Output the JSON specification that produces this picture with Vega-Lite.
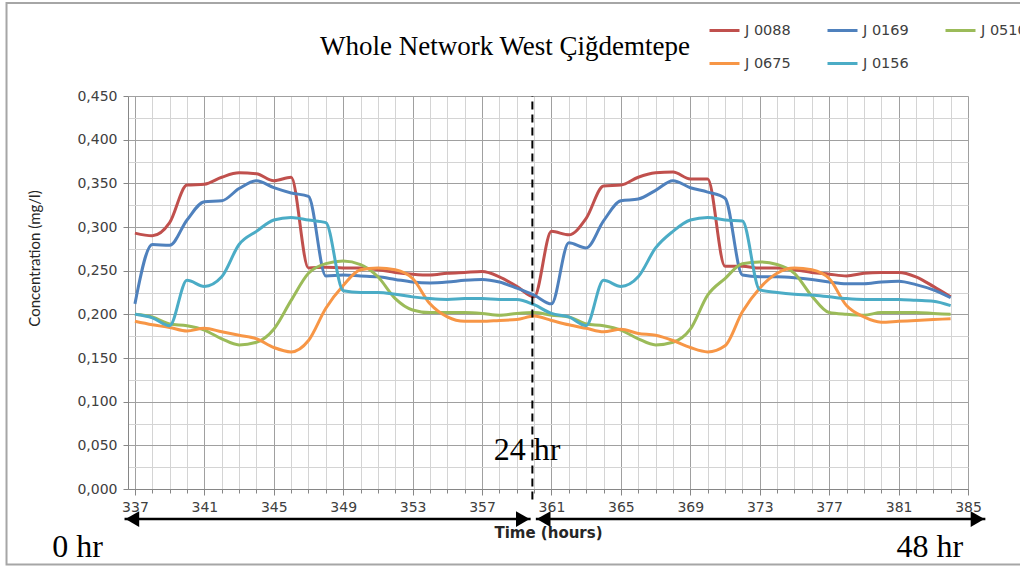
{
  "$schema": "https://vega.github.io/schema/vega-lite/v6.json",
  "width": 840,
  "height": 393,
  "autosize": {"type": "none"},
  "padding": {"left": 128, "top": 96, "right": 52, "bottom": 83},
  "background": "white",
  "config": {
    "view": {"stroke": null},
    "font": "DejaVu Sans",
    "axis": {"labelFont": "DejaVu Sans", "labelFontSize": 14, "labelColor": "#404040", "domainColor": "#868686", "tickColor": "#868686"}
  },
  "title": {
    "text": "Whole Network West Çiğdemtepe",
    "font": "Liberation Serif",
    "fontSize": 27,
    "fontWeight": "normal",
    "color": "#000000",
    "anchor": "middle",
    "frame": "group",
    "baseline": "alphabetic",
    "dx": -43,
    "offset": -80
  },
  "datasets": {
    "conc": [
      {"hour": 337, "J 0088": 0.293, "J 0169": 0.212, "J 0510": 0.200, "J 0675": 0.192, "J 0156": 0.200},
      {"hour": 338, "J 0088": 0.290, "J 0169": 0.280, "J 0510": 0.197, "J 0675": 0.188, "J 0156": 0.196},
      {"hour": 339, "J 0088": 0.305, "J 0169": 0.279, "J 0510": 0.189, "J 0675": 0.185, "J 0156": 0.187},
      {"hour": 340, "J 0088": 0.348, "J 0169": 0.308, "J 0510": 0.187, "J 0675": 0.181, "J 0156": 0.239},
      {"hour": 341, "J 0088": 0.349, "J 0169": 0.329, "J 0510": 0.182, "J 0675": 0.184, "J 0156": 0.232},
      {"hour": 342, "J 0088": 0.357, "J 0169": 0.330, "J 0510": 0.172, "J 0675": 0.180, "J 0156": 0.243},
      {"hour": 343, "J 0088": 0.362, "J 0169": 0.344, "J 0510": 0.165, "J 0675": 0.176, "J 0156": 0.280},
      {"hour": 344, "J 0088": 0.361, "J 0169": 0.353, "J 0510": 0.168, "J 0675": 0.172, "J 0156": 0.295},
      {"hour": 345, "J 0088": 0.353, "J 0169": 0.345, "J 0510": 0.183, "J 0675": 0.162, "J 0156": 0.308},
      {"hour": 346, "J 0088": 0.357, "J 0169": 0.339, "J 0510": 0.216, "J 0675": 0.157, "J 0156": 0.311},
      {"hour": 347, "J 0088": 0.253, "J 0169": 0.335, "J 0510": 0.247, "J 0675": 0.170, "J 0156": 0.308},
      {"hour": 348, "J 0088": 0.254, "J 0169": 0.244, "J 0510": 0.258, "J 0675": 0.207, "J 0156": 0.305},
      {"hour": 349, "J 0088": 0.253, "J 0169": 0.245, "J 0510": 0.261, "J 0675": 0.233, "J 0156": 0.227},
      {"hour": 350, "J 0088": 0.253, "J 0169": 0.244, "J 0510": 0.257, "J 0675": 0.251, "J 0156": 0.225},
      {"hour": 351, "J 0088": 0.251, "J 0169": 0.243, "J 0510": 0.243, "J 0675": 0.253, "J 0156": 0.225},
      {"hour": 352, "J 0088": 0.248, "J 0169": 0.240, "J 0510": 0.218, "J 0675": 0.251, "J 0156": 0.223},
      {"hour": 353, "J 0088": 0.246, "J 0169": 0.237, "J 0510": 0.205, "J 0675": 0.241, "J 0156": 0.220},
      {"hour": 354, "J 0088": 0.245, "J 0169": 0.236, "J 0510": 0.202, "J 0675": 0.212, "J 0156": 0.218},
      {"hour": 355, "J 0088": 0.247, "J 0169": 0.237, "J 0510": 0.202, "J 0675": 0.197, "J 0156": 0.217},
      {"hour": 356, "J 0088": 0.248, "J 0169": 0.239, "J 0510": 0.202, "J 0675": 0.192, "J 0156": 0.218},
      {"hour": 357, "J 0088": 0.249, "J 0169": 0.240, "J 0510": 0.201, "J 0675": 0.192, "J 0156": 0.218},
      {"hour": 358, "J 0088": 0.243, "J 0169": 0.237, "J 0510": 0.199, "J 0675": 0.193, "J 0156": 0.217},
      {"hour": 359, "J 0088": 0.232, "J 0169": 0.230, "J 0510": 0.201, "J 0675": 0.194, "J 0156": 0.217},
      {"hour": 360, "J 0088": 0.220, "J 0169": 0.222, "J 0510": 0.202, "J 0675": 0.198, "J 0156": 0.211},
      {"hour": 361, "J 0088": 0.295, "J 0169": 0.212, "J 0510": 0.199, "J 0675": 0.193, "J 0156": 0.201},
      {"hour": 362, "J 0088": 0.291, "J 0169": 0.282, "J 0510": 0.197, "J 0675": 0.188, "J 0156": 0.197},
      {"hour": 363, "J 0088": 0.310, "J 0169": 0.276, "J 0510": 0.189, "J 0675": 0.184, "J 0156": 0.187},
      {"hour": 364, "J 0088": 0.347, "J 0169": 0.307, "J 0510": 0.187, "J 0675": 0.180, "J 0156": 0.239},
      {"hour": 365, "J 0088": 0.348, "J 0169": 0.330, "J 0510": 0.182, "J 0675": 0.183, "J 0156": 0.232},
      {"hour": 366, "J 0088": 0.357, "J 0169": 0.332, "J 0510": 0.172, "J 0675": 0.178, "J 0156": 0.243},
      {"hour": 367, "J 0088": 0.362, "J 0169": 0.342, "J 0510": 0.165, "J 0675": 0.176, "J 0156": 0.276},
      {"hour": 368, "J 0088": 0.363, "J 0169": 0.353, "J 0510": 0.168, "J 0675": 0.170, "J 0156": 0.295},
      {"hour": 369, "J 0088": 0.355, "J 0169": 0.345, "J 0510": 0.183, "J 0675": 0.162, "J 0156": 0.308},
      {"hour": 370, "J 0088": 0.355, "J 0169": 0.340, "J 0510": 0.222, "J 0675": 0.157, "J 0156": 0.311},
      {"hour": 371, "J 0088": 0.255, "J 0169": 0.333, "J 0510": 0.241, "J 0675": 0.164, "J 0156": 0.308},
      {"hour": 372, "J 0088": 0.255, "J 0169": 0.245, "J 0510": 0.258, "J 0675": 0.203, "J 0156": 0.307},
      {"hour": 373, "J 0088": 0.253, "J 0169": 0.243, "J 0510": 0.260, "J 0675": 0.230, "J 0156": 0.228},
      {"hour": 374, "J 0088": 0.253, "J 0169": 0.243, "J 0510": 0.257, "J 0675": 0.247, "J 0156": 0.225},
      {"hour": 375, "J 0088": 0.251, "J 0169": 0.242, "J 0510": 0.247, "J 0675": 0.253, "J 0156": 0.223},
      {"hour": 376, "J 0088": 0.248, "J 0169": 0.240, "J 0510": 0.221, "J 0675": 0.251, "J 0156": 0.222},
      {"hour": 377, "J 0088": 0.246, "J 0169": 0.237, "J 0510": 0.202, "J 0675": 0.241, "J 0156": 0.220},
      {"hour": 378, "J 0088": 0.244, "J 0169": 0.235, "J 0510": 0.200, "J 0675": 0.210, "J 0156": 0.218},
      {"hour": 379, "J 0088": 0.247, "J 0169": 0.235, "J 0510": 0.199, "J 0675": 0.197, "J 0156": 0.217},
      {"hour": 380, "J 0088": 0.248, "J 0169": 0.237, "J 0510": 0.202, "J 0675": 0.191, "J 0156": 0.217},
      {"hour": 381, "J 0088": 0.248, "J 0169": 0.238, "J 0510": 0.202, "J 0675": 0.192, "J 0156": 0.217},
      {"hour": 382, "J 0088": 0.243, "J 0169": 0.234, "J 0510": 0.202, "J 0675": 0.193, "J 0156": 0.216},
      {"hour": 383, "J 0088": 0.232, "J 0169": 0.228, "J 0510": 0.201, "J 0675": 0.194, "J 0156": 0.215},
      {"hour": 384, "J 0088": 0.220, "J 0169": 0.219, "J 0510": 0.200, "J 0675": 0.195, "J 0156": 0.210}
    ],
    "frame": [
      {"left": 329.6, "right": 392.0, "top": 0.5565, "bottom": -0.0865}
    ],
    "arrows": [
      {"from": 336.4, "to": 359.8, "level": -0.0344},
      {"from": 360.1, "to": 386.0, "level": -0.0344}
    ],
    "heads": [
      {"hour": 336.85, "level": -0.0344, "dir": "left"},
      {"hour": 359.35, "level": -0.0344, "dir": "right"},
      {"hour": 360.55, "level": -0.0344, "dir": "left"},
      {"hour": 385.55, "level": -0.0344, "dir": "right"}
    ],
    "notes": [
      {"label": "24 hr", "hour": 359.6, "level": 0.033},
      {"label": "0 hr", "hour": 333.7, "level": -0.078},
      {"label": "48 hr", "hour": 382.8, "level": -0.078}
    ],
    "marker": [
      {"hour": 359.9, "low": -0.012, "high": 0.45}
    ]
  },
  "layer": [
    {
      "data": {"name": "frame"},
      "mark": {"type": "rect", "filled": false, "stroke": "#a6a6a6", "strokeWidth": 2},
      "encoding": {
        "x": {"field": "left", "type": "quantitative", "axis": null},
        "x2": {"field": "right"},
        "y": {"field": "top", "type": "quantitative", "axis": null},
        "y2": {"field": "bottom"}
      }
    },
    {
      "data": {"name": "conc"},
      "mark": {"type": "point", "opacity": 0},
      "encoding": {
        "x": {
          "field": "hour", "type": "quantitative",
          "scale": {"domain": [336.6, 385], "nice": false, "zero": false},
          "axis": {
            "orient": "bottom", "values": [337,338,339,340,341,342,343,344,345,346,347,348,349,350,351,352,353,354,355,356,357,358,359,360,361,362,363,364,365,366,367,368,369,370,371,372,373,374,375,376,377,378,379,380,381,382,383,384,385],
            "grid": true, "gridColor": "#d4d4d4", "gridWidth": 1,
            "domain": false, "labels": false, "ticks": true, "tickSize": 4, "title": null
          }
        },
        "y": {
          "field": "J 0088", "type": "quantitative",
          "scale": {"domain": [0, 0.45], "nice": false, "zero": true},
          "axis": {
            "orient": "left", "values": [0.025, 0.075, 0.125, 0.175, 0.225, 0.275, 0.325, 0.375, 0.425],
            "grid": true, "gridColor": "#d4d4d4", "gridWidth": 1,
            "domain": false, "labels": false, "ticks": false, "title": null
          }
        }
      }
    },
    {
      "data": {"name": "conc"},
      "transform": [{"fold": ["J 0088", "J 0169", "J 0510", "J 0675", "J 0156"], "as": ["junction", "value"]}],
      "mark": {"type": "line", "interpolate": "monotone", "strokeWidth": 3},
      "encoding": {
        "x": {
          "field": "hour", "type": "quantitative",
          "scale": {"domain": [336.6, 385], "nice": false, "zero": false},
          "axis": {
            "orient": "bottom", "values": [337, 341, 345, 349, 353, 357, 361, 365, 369, 373, 377, 381, 385],
            "grid": true, "gridColor": "#a0a0a0", "gridWidth": 1,
            "domain": true, "ticks": true, "tickSize": 6,
            "labelPadding": 5, "labelFlush": false, "labelOverlap": false,
            "title": "Time  (hours)", "titleFont": "DejaVu Sans", "titleFontSize": 15, "titleFontWeight": "bold", "titleColor": "#262626", "titlePadding": 11
          }
        },
        "y": {
          "field": "value", "type": "quantitative",
          "scale": {"domain": [0, 0.45], "nice": false, "zero": true},
          "axis": {
            "orient": "left", "values": [0, 0.05, 0.1, 0.15, 0.2, 0.25, 0.3, 0.35, 0.4, 0.45],
            "grid": true, "gridColor": "#a0a0a0", "gridWidth": 1,
            "domain": true, "ticks": true, "tickSize": 5, "labelPadding": 6,
            "labelExpr": "replace(format(datum.value, '.3f'), '.', ',')",
            "title": "Concentration  (mg/l)", "titleFont": "Lato", "titleFontSize": 15, "titleFontWeight": "normal", "titleColor": "#262626",
            "titleX": -86, "titleY": 162
          }
        },
        "color": {
          "field": "junction", "type": "nominal",
          "scale": {
            "domain": ["J 0088", "J 0169", "J 0510", "J 0675", "J 0156"],
            "range": ["#C0504D", "#4F81BD", "#9BBB59", "#F79646", "#4BACC6"]
          },
          "legend": {
            "title": null, "orient": "none", "legendX": 580, "legendY": -82,
            "direction": "horizontal", "columns": 3, "columnPadding": 30, "rowPadding": 10,
            "symbolType": "stroke", "symbolSize": 900, "symbolStrokeWidth": 3,
            "labelFont": "DejaVu Sans", "labelFontSize": 14.5, "labelColor": "#404040", "labelOffset": 4, "padding": 0
          }
        }
      }
    },
    {
      "data": {"name": "arrows"},
      "mark": {"type": "rule", "color": "black", "strokeWidth": 2.5},
      "encoding": {
        "x": {"field": "from", "type": "quantitative", "axis": null},
        "x2": {"field": "to"},
        "y": {"field": "level", "type": "quantitative", "axis": null}
      }
    },
    {
      "data": {"name": "heads"},
      "mark": {"type": "point", "filled": true, "color": "black", "size": 250, "opacity": 1},
      "encoding": {
        "x": {"field": "hour", "type": "quantitative", "axis": null},
        "y": {"field": "level", "type": "quantitative", "axis": null},
        "shape": {"field": "dir", "type": "nominal", "scale": {"domain": ["left", "right"], "range": ["triangle-left", "triangle-right"]}, "legend": null}
      }
    },
    {
      "data": {"name": "notes"},
      "mark": {"type": "text", "font": "Liberation Serif", "fontSize": 32, "color": "black", "align": "center", "baseline": "alphabetic"},
      "encoding": {
        "x": {"field": "hour", "type": "quantitative", "axis": null},
        "y": {"field": "level", "type": "quantitative", "axis": null},
        "text": {"field": "label"}
      }
    },
    {
      "data": {"name": "marker"},
      "mark": {"type": "rule", "color": "black", "strokeWidth": 2, "strokeDash": [8, 5]},
      "encoding": {
        "x": {"field": "hour", "type": "quantitative", "axis": null},
        "y": {"field": "low", "type": "quantitative", "axis": null},
        "y2": {"field": "high"}
      }
    }
  ],
  "resolve": {"axis": {"x": "independent", "y": "independent"}}
}
